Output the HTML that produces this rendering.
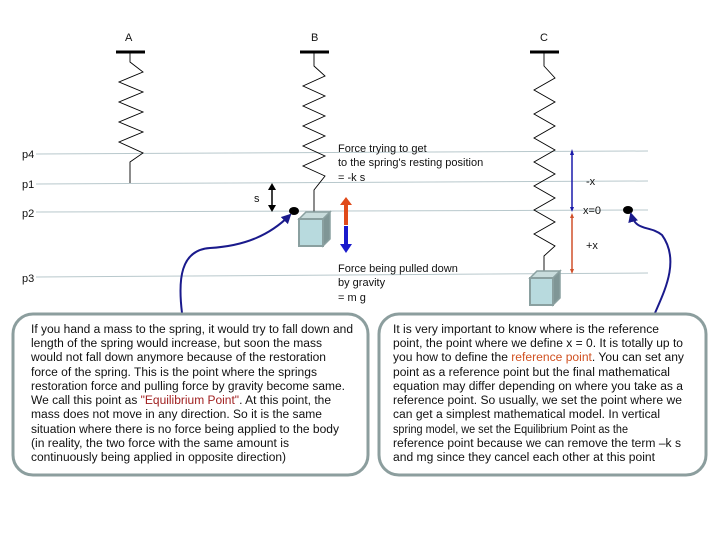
<!DOCTYPE html>
<html><head><meta charset="utf-8"><style>
body{margin:0;background:#fff}
svg{display:block}
text{font-family:"Liberation Sans",sans-serif;fill:#111}
</style></head><body>
<svg width="720" height="540" viewBox="0 0 720 540">
<defs>
<marker id="ab" viewBox="0 0 10 10" refX="8" refY="5" markerWidth="5" markerHeight="5" orient="auto"><path d="M0,0L10,5L0,10z" fill="#1a1a8c"/></marker>
</defs>
<g stroke="#b8c8cc" stroke-width="1">
<line x1="36" y1="154" x2="648" y2="151"/>
<line x1="36" y1="184" x2="648" y2="181"/>
<line x1="36" y1="212" x2="648" y2="210"/>
<line x1="36" y1="277" x2="648" y2="273"/>
</g>
<g font-size="11">
<text x="22" y="158">p4</text><text x="22" y="188">p1</text><text x="22" y="217">p2</text><text x="22" y="282">p3</text>
<text x="125" y="41">A</text><text x="311" y="41">B</text><text x="540" y="41">C</text>
<text x="254" y="202">s</text>
<text x="586" y="185">-x</text><text x="583" y="214">x=0</text><text x="586" y="249">+x</text>
<text x="338" y="152">Force trying to get</text>
<text x="338" y="166">to the spring's resting position</text>
<text x="338" y="181">= -k s</text>
<text x="338" y="272">Force being pulled down</text>
<text x="338" y="286">by gravity</text>
<text x="338" y="301">= m g</text>
</g>
<g stroke="#000" stroke-width="3"><line x1="116" y1="52" x2="145" y2="52"/><line x1="300" y1="52" x2="329" y2="52"/><line x1="530" y1="52" x2="559" y2="52"/></g>
<g fill="none" stroke="#000" stroke-width="0.9">
<polyline points="130,52 130,62 143,72 119,82 143,92 119,102 143,112 119,122 143,132 119,142 143,153 130,162 130,183"/>
<polyline points="314,52 314,66 325,76 303,86 325,96 303,106 325,116 303,126 325,136 303,146 325,156 303,166 325,176 314,190 314,212"/>
<polyline points="544,52 544,66 555,78 534,90 555,102 534,114 555,126 534,138 555,150 534,162 555,174 534,186 555,198 534,210 555,222 534,234 555,246 544,256 544,273"/>
</g>
<g>
<polygon points="299,219 306,212 330,212 323,219" fill="#c8dcdc" stroke="#8aa0a0" stroke-width="1.5"/>
<polygon points="323,219 330,212 330,239 323,246" fill="#7f9696" stroke="#8aa0a0" stroke-width="1.5"/>
<rect x="299" y="219" width="24" height="27" fill="#b8dade" stroke="#8aa0a0" stroke-width="2"/>
<polygon points="530,278 537,271 560,271 553,278" fill="#c8dcdc" stroke="#8aa0a0" stroke-width="1.5"/>
<polygon points="553,278 560,271 560,298 553,305" fill="#7f9696" stroke="#8aa0a0" stroke-width="1.5"/>
<rect x="530" y="278" width="23" height="27" fill="#b8dade" stroke="#8aa0a0" stroke-width="2"/>
</g>
<line x1="272" y1="188" x2="272" y2="207" stroke="#000" stroke-width="1.5"/>
<polygon points="268,190 272,183 276,190" fill="#000"/><polygon points="268,205 272,212 276,205" fill="#000"/>
<rect x="344" y="204" width="4" height="21" fill="#e04a1a"/><polygon points="340,205 346,197 352,205" fill="#e04a1a"/>
<rect x="344" y="226" width="4" height="19" fill="#1a1acc"/><polygon points="340,244 346,253 352,244" fill="#1a1acc"/>
<line x1="572" y1="153" x2="572" y2="209" stroke="#1a1aaa" stroke-width="1.5"/>
<polygon points="570,155 572,149 574,155" fill="#1a1aaa"/><polygon points="570,207 572,212 574,207" fill="#1a1aaa"/>
<line x1="572" y1="216" x2="572" y2="271" stroke="#d0502a" stroke-width="1.5"/>
<polygon points="570,218 572,213 574,218" fill="#d0502a"/><polygon points="570,269 572,274 574,269" fill="#d0502a"/>
<ellipse cx="294" cy="211" rx="5" ry="4" fill="#000"/>
<ellipse cx="628" cy="210" rx="5" ry="4" fill="#000"/>
<path d="M182,313 C178,280 180,250 210,248 C245,246 270,235 290,215" fill="none" stroke="#1a1a8c" stroke-width="2" marker-end="url(#ab)"/>
<path d="M655,313 C665,290 680,260 662,235 C650,225 636,232 631,214" fill="none" stroke="#1a1a8c" stroke-width="2" marker-end="url(#ab)"/>
<rect x="13" y="314" width="355" height="161" rx="20" fill="#fff" stroke="#8c9e9e" stroke-width="3"/>
<rect x="379" y="314" width="327" height="161" rx="20" fill="#fff" stroke="#8c9e9e" stroke-width="3"/>
<g font-size="11.5">
<text x="31" y="333" textLength="322" lengthAdjust="spacingAndGlyphs">If you hand a mass to the spring, it would try to fall down and</text>
<text x="31" y="347" textLength="291" lengthAdjust="spacingAndGlyphs">length of the spring would increase, but soon the mass</text>
<text x="31" y="361" textLength="295" lengthAdjust="spacingAndGlyphs">would not fall down anymore because of the restoration</text>
<text x="31" y="376" textLength="286" lengthAdjust="spacingAndGlyphs">force of the spring. This is the point where the springs</text>
<text x="31" y="390" textLength="314" lengthAdjust="spacingAndGlyphs">restoration force and pulling force by gravity become same.</text>
<text x="31" y="404" textLength="300" lengthAdjust="spacingAndGlyphs">We call this point as <tspan fill="#a02020">"Equilibrium Point"</tspan>. At this point, the</text>
<text x="31" y="418" textLength="291" lengthAdjust="spacingAndGlyphs">mass does not move in any direction. So it is the same</text>
<text x="31" y="433" textLength="308" lengthAdjust="spacingAndGlyphs">situation where there is no force being applied to the body</text>
<text x="31" y="447" textLength="258" lengthAdjust="spacingAndGlyphs">(in reality, the two force with the same amount is</text>
<text x="31" y="461" textLength="255" lengthAdjust="spacingAndGlyphs">continuously being applied in opposite direction)</text>
<text x="393" y="333" textLength="266" lengthAdjust="spacingAndGlyphs">It is very important to know where is the reference</text>
<text x="393" y="347" textLength="290" lengthAdjust="spacingAndGlyphs">point, the point where we define x = 0. It is totally up to</text>
<text x="393" y="361" textLength="291" lengthAdjust="spacingAndGlyphs">you how to define the <tspan fill="#d05020">reference point</tspan>. You can set any</text>
<text x="393" y="376" textLength="277" lengthAdjust="spacingAndGlyphs">point as a reference point but the final mathematical</text>
<text x="393" y="390" textLength="290" lengthAdjust="spacingAndGlyphs">equation may differ depending on where you take as a</text>
<text x="393" y="404" textLength="289" lengthAdjust="spacingAndGlyphs">reference point. So usually, we set the point where we</text>
<text x="393" y="418" textLength="267" lengthAdjust="spacingAndGlyphs">can get a simplest mathematical model. In vertical</text>
<text x="393" y="433" textLength="235" lengthAdjust="spacingAndGlyphs">spring model, we set the Equilibrium Point as the</text>
<text x="393" y="447" textLength="288" lengthAdjust="spacingAndGlyphs">reference point because we can remove the term –k s</text>
<text x="393" y="461" textLength="262" lengthAdjust="spacingAndGlyphs">and mg since they cancel each other at this point</text>
</g>
</svg>
</body></html>
